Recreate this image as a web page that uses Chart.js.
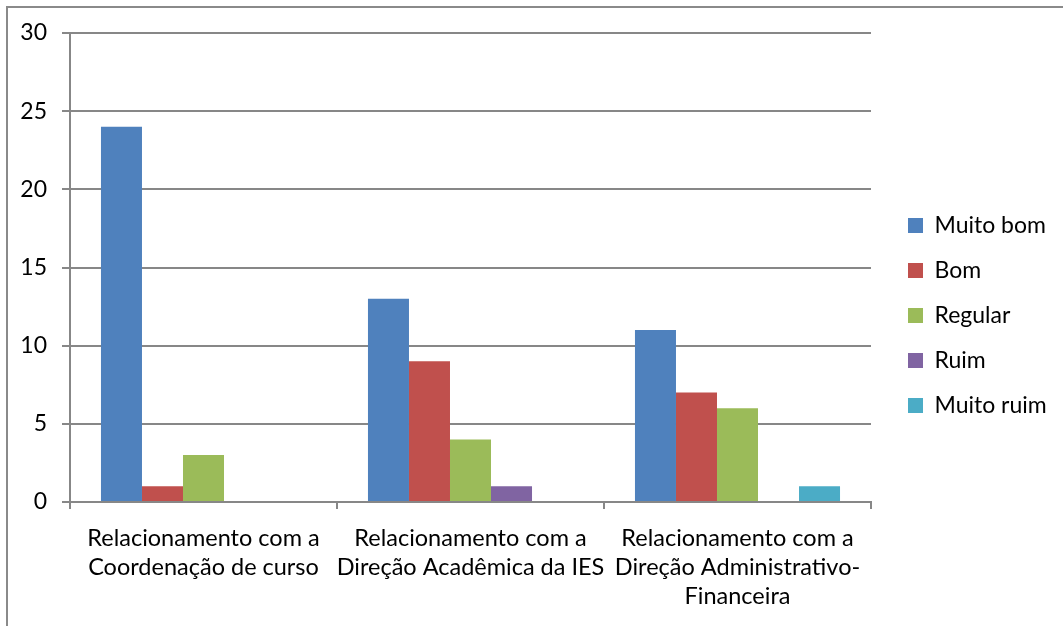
<!DOCTYPE html>
<html>
<head>
<meta charset="utf-8">
<script src="https://cdn.jsdelivr.net/npm/chart.js@4/dist/chart.umd.min.js"></script>
<style>
	html, body { margin: 0; padding: 0; background: #fff; }
	#wrap { position: relative; width: 1063px; height: 626px; overflow: hidden; }
	#frame { position: absolute; left: 6px; top: 6px; width: 1200px; height: 800px;
		border-top: 2px solid #8a8a8a; border-left: 2px solid #8a8a8a; pointer-events: none; }
</style>
</head>
<body>
<div id="wrap">
	<canvas id="chart"></canvas>
	<div id="frame"></div>
</div>
<script>
const categories = [
	['Relacionamento com a', 'Coordenação de curso'],
	['Relacionamento com a', 'Direção Acadêmica da IES'],
	['Relacionamento com a', 'Direção Administrativo-', 'Financeira']
];
const muitoBom = [24, 13, 11];
const bom = [1, 9, 7];
const regular = [3, 4, 6];
const ruim = [0, 1, 0];
const muitoRuim = [0, 0, 1];
const yTicks = [0, 5, 10, 15, 20, 25, 30];

const FONT = 'Lato';
const GRID = '#878787';

// legend: fixed width, then nudge it so the plot ends where it should
const legendShift = {
	id: 'legendShift',
	beforeInit(chart) {
		const fit = chart.legend.fit;
		chart.legend.fit = function () {
			fit.bind(chart.legend)();
			this.width = 192;
		};
	},
	afterLayout(chart) {
		chart.legend.left += 15;
		chart.legend.right += 15;
		chart.legend.top -= 28;
	}
};

const ctx = document.getElementById('chart').getContext('2d');
new Chart(ctx, {
	type: 'bar',
	data: {
		labels: categories,
		datasets: [
			{ label: 'Muito bom', data: muitoBom, backgroundColor: '#4F81BD' },
			{ label: 'Bom', data: bom, backgroundColor: '#C0504D' },
			{ label: 'Regular', data: regular, backgroundColor: '#9BBB59' },
			{ label: 'Ruim', data: ruim, backgroundColor: '#8064A2' },
			{ label: 'Muito ruim', data: muitoRuim, backgroundColor: '#4BACC6' },
		]
	},
	options: {
		responsive: true,
		maintainAspectRatio: false,
		animation: false,
		layout: {
			padding: { top: 33, left: 0, right: 0, bottom: 0 }
		},
		datasets: {
			bar: {
				categoryPercentage: 0.768,
				barPercentage: 1,
				borderWidth: 0,
			}
		},
		scales: {
			x: {
				afterFit: function (scale) { scale.height = 124; },
				border: { display: true, color: GRID, width: 2 },
				grid: {
					display: true,
					drawOnChartArea: false,
					drawTicks: true,
					tickLength: 7,
					color: GRID,
					lineWidth: 2,
				},
				ticks: {
					color: '#000',
					padding: 15,
					maxRotation: 0,
					autoSkip: false,
					font: { family: FONT, size: 23.5, lineHeight: 1.24 },
				}
			},
			y: {
				min: 0,
				max: 30,
				afterFit: function (scale) { scale.width = 70; },
				afterBuildTicks: function (scale) {
					scale.ticks = yTicks.map(v => ({ value: v }));
				},
				border: { display: true, color: GRID, width: 2 },
				grid: {
					color: GRID,
					lineWidth: 2,
					tickLength: 8,
				},
				ticks: {
					color: '#000',
					padding: 15,
					font: { family: FONT, size: 23 },
				}
			}
		},
		plugins: {
			legend: {
				position: 'right',
				labels: {
					boxWidth: 15,
					boxHeight: 15,
					padding: 22,
					color: '#000',
					font: { family: FONT, size: 23 },
				}
			},
			tooltip: { enabled: false },
		}
	},
	plugins: [legendShift]
});
</script>
</body>
</html>
